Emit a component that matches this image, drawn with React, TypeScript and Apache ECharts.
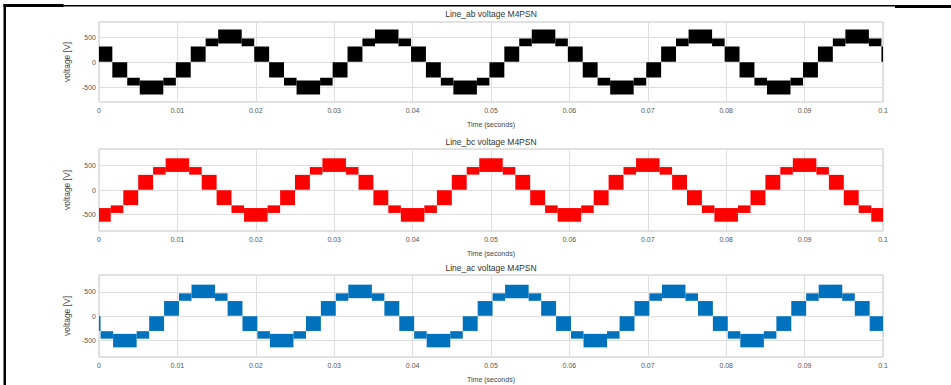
import React, { useEffect, useRef } from "react";
import * as echarts from "echarts";

// ---- data ----
const titles = ["Line_ab voltage M4PSN", "Line_bc voltage M4PSN", "Line_ac voltage M4PSN"];
const seriesColors = ["#000000", "#ff0000", "#0072bd"];
const yTicks = [-500, 0, 500];
const yRanges = [800, 840, 850];

// visual band (low, high) of each output level |1|,|2|,|3| in volts
const bandLow = [5, 315, 370];
const bandHigh = [310, 470, 650];

// switching edges (s) and level per segment
const abEdges = [
  0,
  0.0017, 0.0036, 0.0052, 0.0082, 0.0098, 0.0117, 0.0136, 0.0152, 0.0182, 0.0198,
  0.0217, 0.0236, 0.0252, 0.0282, 0.0298, 0.0317, 0.0336, 0.0352, 0.0382, 0.0398,
  0.0417, 0.0436, 0.0452, 0.0482, 0.0498, 0.0517, 0.0536, 0.0552, 0.0582, 0.0598,
  0.0617, 0.0636, 0.0652, 0.0682, 0.0698, 0.0717, 0.0736, 0.0752, 0.0782, 0.0798,
  0.0817, 0.0836, 0.0852, 0.0882, 0.0898, 0.0917, 0.0936, 0.0952, 0.0982, 0.0998,
  0.1,
];
const abLevels = [
  1,
  -1, -2, -3, -2, -1, 1, 2, 3, 2, 1,
  -1, -2, -3, -2, -1, 1, 2, 3, 2, 1,
  -1, -2, -3, -2, -1, 1, 2, 3, 2, 1,
  -1, -2, -3, -2, -1, 1, 2, 3, 2, 1,
  -1, -2, -3, -2, -1, 1, 2, 3, 2, 1,
];

const bcEdges = [
  0,
  0.0015, 0.0031, 0.005, 0.0069, 0.0085, 0.0115, 0.0131, 0.015, 0.0169, 0.0185,
  0.0215, 0.0231, 0.025, 0.0269, 0.0285, 0.0315, 0.0331, 0.035, 0.0369, 0.0385,
  0.0415, 0.0431, 0.045, 0.0469, 0.0485, 0.0515, 0.0531, 0.055, 0.0569, 0.0585,
  0.0615, 0.0631, 0.065, 0.0669, 0.0685, 0.0715, 0.0731, 0.075, 0.0769, 0.0785,
  0.0815, 0.0831, 0.085, 0.0869, 0.0885, 0.0915, 0.0931, 0.095, 0.0969, 0.0985,
  0.1,
];
const bcLevels = [
  -3,
  -2, -1, 1, 2, 3, 2, 1, -1, -2, -3,
  -2, -1, 1, 2, 3, 2, 1, -1, -2, -3,
  -2, -1, 1, 2, 3, 2, 1, -1, -2, -3,
  -2, -1, 1, 2, 3, 2, 1, -1, -2, -3,
  -2, -1, 1, 2, 3, 2, 1, -1, -2, -3,
];

const acEdges = [
  0,
  0.0002, 0.0018, 0.0048, 0.0064, 0.0083, 0.0102, 0.0118, 0.0148, 0.0164, 0.0183,
  0.0202, 0.0218, 0.0248, 0.0264, 0.0283, 0.0302, 0.0318, 0.0348, 0.0364, 0.0383,
  0.0402, 0.0418, 0.0448, 0.0464, 0.0483, 0.0502, 0.0518, 0.0548, 0.0564, 0.0583,
  0.0602, 0.0618, 0.0648, 0.0664, 0.0683, 0.0702, 0.0718, 0.0748, 0.0764, 0.0783,
  0.0802, 0.0818, 0.0848, 0.0864, 0.0883, 0.0902, 0.0918, 0.0948, 0.0964, 0.0983,
  0.1,
];
const acLevels = [
  -1,
  -2, -3, -2, -1, 1, 2, 3, 2, 1, -1,
  -2, -3, -2, -1, 1, 2, 3, 2, 1, -1,
  -2, -3, -2, -1, 1, 2, 3, 2, 1, -1,
  -2, -3, -2, -1, 1, 2, 3, 2, 1, -1,
  -2, -3, -2, -1, 1, 2, 3, 2, 1, -1,
];

const allEdges = [abEdges, bcEdges, acEdges];
const allLevels = [abLevels, bcLevels, acLevels];

function buildBlocks(edges: number[], levels: number[]) {
  const out: number[][] = [];
  for (let i = 0; i < levels.length; i++) {
    const lv = levels[i];
    const k = Math.abs(lv) - 1;
    const lo = lv > 0 ? bandLow[k] : -bandHigh[k];
    const hi = lv > 0 ? bandHigh[k] : -bandLow[k];
    out.push([edges[i], edges[i + 1], lo, hi]);
  }
  return out;
}

const FONT = "'Liberation Sans', Arial, Helvetica, sans-serif";
const gridTops = [22, 149, 275];
const gridHeights = [80, 82, 82];
const titleYs = [14, 142, 268];

export default function App() {
  const ref = useRef<HTMLDivElement>(null);
  useEffect(() => {
    if (!ref.current) return;
    const chart = echarts.init(ref.current, undefined, { renderer: "svg" });

    const grids = gridTops.map((top, i) => ({
      left: 99,
      right: 68,
      top,
      height: gridHeights[i],
      show: true,
      borderColor: "#c4c4c4",
      borderWidth: 1,
      backgroundColor: "#ffffff",
    }));

    const xAxes = gridTops.map((_, i) => ({
      gridIndex: i,
      type: "value",
      min: 0,
      max: 0.1,
      interval: 0.01,
      axisLine: { show: false },
      axisTick: { show: false },
      splitLine: { show: true, lineStyle: { color: "#dedede", width: 1 } },
      axisLabel: {
        fontSize: 7,
        color: "#555",
        margin: 5,
        fontFamily: FONT,
        formatter: (v: number) => String(parseFloat(v.toFixed(3))),
      },
      name: "Time (seconds)",
      nameLocation: "middle",
      nameGap: 19,
      nameTextStyle: { fontSize: 7, color: "#444", fontFamily: FONT },
    }));

    const yAxes = gridTops.map((_, i) => ({
      gridIndex: i,
      type: "value",
      min: -yRanges[i],
      max: yRanges[i],
      axisLine: { show: false },
      axisTick: { show: false, customValues: yTicks },
      splitLine: { show: true, lineStyle: { color: "#dedede", width: 1 } },
      axisLabel: {
        customValues: yTicks,
        fontSize: 7,
        color: "#555",
        margin: 3,
        fontFamily: FONT,
      },
      name: "voltage [V]",
      nameLocation: "middle",
      nameRotate: 90,
      nameGap: 23,
      nameTextStyle: { fontSize: 8.5, color: "#444", fontFamily: FONT },
    }));

    const series = gridTops.map((_, i) => ({
      type: "custom",
      xAxisIndex: i,
      yAxisIndex: i,
      clip: true,
      encode: { x: [0, 1], y: [2, 3] },
      data: buildBlocks(allEdges[i], allLevels[i]),
      renderItem: (params: any, api: any) => {
        const p0 = api.coord([api.value(0), api.value(3)]);
        const p1 = api.coord([api.value(1), api.value(2)]);
        return {
          type: "rect",
          shape: { x: p0[0], y: p0[1], width: p1[0] - p0[0], height: p1[1] - p0[1] },
          style: { fill: seriesColors[i] },
        };
      },
    }));

    const graphic: any[] = [
      { type: "rect", shape: { x: 3.5, y: 4, width: 2.5, height: 381 }, style: { fill: "#000" } },
      { type: "rect", shape: { x: 3.5, y: 4, width: 60, height: 3 }, style: { fill: "#000" } },
      { type: "rect", shape: { x: 63, y: 5, width: 832, height: 1.5 }, style: { fill: "#000" } },
      { type: "rect", shape: { x: 895, y: 5, width: 56, height: 3 }, style: { fill: "#000" } },
    ];
    titles.forEach((t, i) => {
      graphic.push({
        type: "text",
        x: 491,
        y: titleYs[i],
        style: {
          text: t,
          align: "center",
          verticalAlign: "middle",
          fontSize: 8.5,
          fill: "#333",
          fontFamily: FONT,
        },
      });
    });

    chart.setOption({
      animation: false,
      backgroundColor: "#ffffff",
      grid: grids,
      xAxis: xAxes,
      yAxis: yAxes,
      series,
      graphic,
    } as any);

    return () => chart.dispose();
  }, []);

  return (
    <div
      ref={ref}
      style={{ position: "absolute", left: 0, top: 0, width: 951, height: 385, background: "#fff" }}
    />
  );
}
